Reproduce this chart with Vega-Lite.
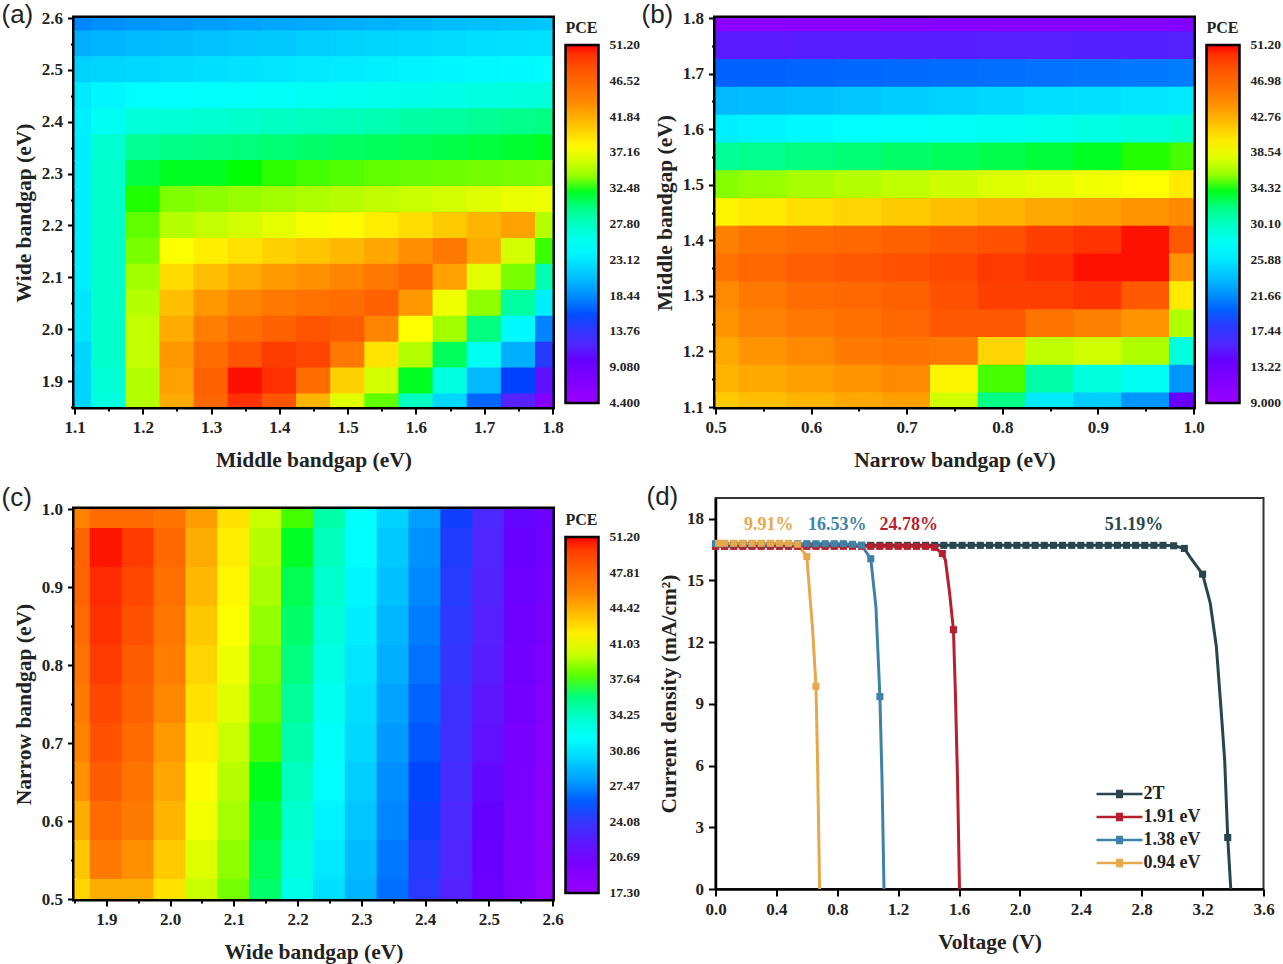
{"$schema":"https://vega.github.io/schema/vega-lite/v6.json","padding":{"left":-1.5,"top":-1,"right":0,"bottom":0},"background":"white","bounds":"flush","spacing":641,"resolve":{"scale":{"color":"independent"},"legend":{"color":"independent"}},
"config":{"view":{"stroke":"black","strokeWidth":5},"axis":{"grid":false,"labelFont":"Liberation Serif","labelFontWeight":"bold","labelFontSize":17,"labelColor":"#222","labelFlush":false,"titleFont":"Liberation Serif","titleFontWeight":"bold","titleFontSize":21.5,"titleColor":"#222","domainColor":"black","domainWidth":2.5,"tickColor":"black","tickWidth":2,"labelOverlap":false,"labelPadding":5,"zindex":1},"legend":{"titleFont":"Liberation Serif","titleFontWeight":"bold","titleFontSize":16,"titleColor":"#222","labelFont":"Liberation Serif","labelFontWeight":"bold","labelFontSize":13.5,"labelColor":"#222","padding":0}},
"hconcat":[{"bounds":"flush","spacing":102,"resolve":{"scale":{"color":"independent"},"legend":{"color":"independent"}},"vconcat":[
{"width":478,"height":389,"title":{"text":"(a)","anchor":"start","frame":"group","dx":-73,"dy":19,"offset":0,"font":"Liberation Sans","fontWeight":"normal","fontSize":26,"color":"#222"},
"data":{"values":[
{"x":1.1,"y":2.6,"v":18},{"x":1.15,"y":2.6,"v":18.5},{"x":1.2,"y":2.6,"v":18.8},{"x":1.25,"y":2.6,"v":19},{"x":1.3,"y":2.6,"v":19.2},{"x":1.35,"y":2.6,"v":19.4},{"x":1.4,"y":2.6,"v":19.6},{"x":1.45,"y":2.6,"v":19.8},{"x":1.5,"y":2.6,"v":20},{"x":1.55,"y":2.6,"v":20.2},{"x":1.6,"y":2.6,"v":20.5},{"x":1.65,"y":2.6,"v":20.7},{"x":1.7,"y":2.6,"v":20.9},{"x":1.75,"y":2.6,"v":21.1},{"x":1.8,"y":2.6,"v":21.3},
{"x":1.1,"y":2.55,"v":20},{"x":1.15,"y":2.55,"v":20.3},{"x":1.2,"y":2.55,"v":20.6},{"x":1.25,"y":2.55,"v":20.8},{"x":1.3,"y":2.55,"v":21},{"x":1.35,"y":2.55,"v":21.2},{"x":1.4,"y":2.55,"v":21.4},{"x":1.45,"y":2.55,"v":21.6},{"x":1.5,"y":2.55,"v":21.8},{"x":1.55,"y":2.55,"v":22},{"x":1.6,"y":2.55,"v":22.2},{"x":1.65,"y":2.55,"v":22.4},{"x":1.7,"y":2.55,"v":22.6},{"x":1.75,"y":2.55,"v":22.7},{"x":1.8,"y":2.55,"v":22.8},
{"x":1.1,"y":2.5,"v":21.8},{"x":1.15,"y":2.5,"v":22},{"x":1.2,"y":2.5,"v":22.2},{"x":1.25,"y":2.5,"v":22.4},{"x":1.3,"y":2.5,"v":22.6},{"x":1.35,"y":2.5,"v":22.8},{"x":1.4,"y":2.5,"v":23},{"x":1.45,"y":2.5,"v":23.2},{"x":1.5,"y":2.5,"v":23.4},{"x":1.55,"y":2.5,"v":23.6},{"x":1.6,"y":2.5,"v":23.8},{"x":1.65,"y":2.5,"v":24},{"x":1.7,"y":2.5,"v":24.1},{"x":1.75,"y":2.5,"v":24.2},{"x":1.8,"y":2.5,"v":24.4},
{"x":1.1,"y":2.45,"v":23.2},{"x":1.15,"y":2.45,"v":24},{"x":1.2,"y":2.45,"v":24.4},{"x":1.25,"y":2.45,"v":24.6},{"x":1.3,"y":2.45,"v":24.8},{"x":1.35,"y":2.45,"v":25},{"x":1.4,"y":2.45,"v":25.2},{"x":1.45,"y":2.45,"v":25.4},{"x":1.5,"y":2.45,"v":25.6},{"x":1.55,"y":2.45,"v":25.8},{"x":1.6,"y":2.45,"v":26},{"x":1.65,"y":2.45,"v":26.2},{"x":1.7,"y":2.45,"v":26.4},{"x":1.75,"y":2.45,"v":26.6},{"x":1.8,"y":2.45,"v":26.8},
{"x":1.1,"y":2.4,"v":23.5},{"x":1.15,"y":2.4,"v":25.5},{"x":1.2,"y":2.4,"v":26.8},{"x":1.25,"y":2.4,"v":27},{"x":1.3,"y":2.4,"v":27.2},{"x":1.35,"y":2.4,"v":27.5},{"x":1.4,"y":2.4,"v":27.8},{"x":1.45,"y":2.4,"v":28},{"x":1.5,"y":2.4,"v":28.2},{"x":1.55,"y":2.4,"v":28.5},{"x":1.6,"y":2.4,"v":28.8},{"x":1.65,"y":2.4,"v":29},{"x":1.7,"y":2.4,"v":29.4},{"x":1.75,"y":2.4,"v":29.7},{"x":1.8,"y":2.4,"v":30},
{"x":1.1,"y":2.35,"v":23.5},{"x":1.15,"y":2.35,"v":27.3},{"x":1.2,"y":2.35,"v":29.5},{"x":1.25,"y":2.35,"v":29.8},{"x":1.3,"y":2.35,"v":30},{"x":1.35,"y":2.35,"v":30.2},{"x":1.4,"y":2.35,"v":30.4},{"x":1.45,"y":2.35,"v":30.6},{"x":1.5,"y":2.35,"v":30.8},{"x":1.55,"y":2.35,"v":31},{"x":1.6,"y":2.35,"v":31.2},{"x":1.65,"y":2.35,"v":31.4},{"x":1.7,"y":2.35,"v":31.6},{"x":1.75,"y":2.35,"v":31.8},{"x":1.8,"y":2.35,"v":32},
{"x":1.1,"y":2.3,"v":23.5},{"x":1.15,"y":2.3,"v":27.5},{"x":1.2,"y":2.3,"v":31.5},{"x":1.25,"y":2.3,"v":32},{"x":1.3,"y":2.3,"v":32},{"x":1.35,"y":2.3,"v":32.2},{"x":1.4,"y":2.3,"v":32.4},{"x":1.45,"y":2.3,"v":32.6},{"x":1.5,"y":2.3,"v":32.8},{"x":1.55,"y":2.3,"v":33},{"x":1.6,"y":2.3,"v":33.2},{"x":1.65,"y":2.3,"v":33.3},{"x":1.7,"y":2.3,"v":33.4},{"x":1.75,"y":2.3,"v":33.5},{"x":1.8,"y":2.3,"v":33.6},
{"x":1.1,"y":2.25,"v":23.5},{"x":1.15,"y":2.25,"v":27.5},{"x":1.2,"y":2.25,"v":32.3},{"x":1.25,"y":2.25,"v":33.6},{"x":1.3,"y":2.25,"v":33.9},{"x":1.35,"y":2.25,"v":34.2},{"x":1.4,"y":2.25,"v":34.5},{"x":1.45,"y":2.25,"v":34.8},{"x":1.5,"y":2.25,"v":35.1},{"x":1.55,"y":2.25,"v":35.4},{"x":1.6,"y":2.25,"v":35.7},{"x":1.65,"y":2.25,"v":36},{"x":1.7,"y":2.25,"v":36.4},{"x":1.75,"y":2.25,"v":36.8},{"x":1.8,"y":2.25,"v":37},
{"x":1.1,"y":2.2,"v":23.5},{"x":1.15,"y":2.2,"v":27.5},{"x":1.2,"y":2.2,"v":33},{"x":1.25,"y":2.2,"v":35},{"x":1.3,"y":2.2,"v":35.5},{"x":1.35,"y":2.2,"v":36},{"x":1.4,"y":2.2,"v":36.6},{"x":1.45,"y":2.2,"v":37.2},{"x":1.5,"y":2.2,"v":37.8},{"x":1.55,"y":2.2,"v":38.6},{"x":1.6,"y":2.2,"v":39.4},{"x":1.65,"y":2.2,"v":40.4},{"x":1.7,"y":2.2,"v":41.5},{"x":1.75,"y":2.2,"v":42.5},{"x":1.8,"y":2.2,"v":35},
{"x":1.1,"y":2.15,"v":23.5},{"x":1.15,"y":2.15,"v":27.5},{"x":1.2,"y":2.15,"v":33.5},{"x":1.25,"y":2.15,"v":37.5},{"x":1.3,"y":2.15,"v":38.5},{"x":1.35,"y":2.15,"v":39.2},{"x":1.4,"y":2.15,"v":40},{"x":1.45,"y":2.15,"v":40.6},{"x":1.5,"y":2.15,"v":41.3},{"x":1.55,"y":2.15,"v":42.2},{"x":1.6,"y":2.15,"v":43.5},{"x":1.65,"y":2.15,"v":45},{"x":1.7,"y":2.15,"v":42},{"x":1.75,"y":2.15,"v":36},{"x":1.8,"y":2.15,"v":32.5},
{"x":1.1,"y":2.1,"v":23.5},{"x":1.15,"y":2.1,"v":27.5},{"x":1.2,"y":2.1,"v":34.5},{"x":1.25,"y":2.1,"v":39.5},{"x":1.3,"y":2.1,"v":41},{"x":1.35,"y":2.1,"v":42},{"x":1.4,"y":2.1,"v":42.8},{"x":1.45,"y":2.1,"v":43.4},{"x":1.5,"y":2.1,"v":44},{"x":1.55,"y":2.1,"v":45},{"x":1.6,"y":2.1,"v":46.5},{"x":1.65,"y":2.1,"v":42.5},{"x":1.7,"y":2.1,"v":36.5},{"x":1.75,"y":2.1,"v":33.5},{"x":1.8,"y":2.1,"v":28.5},
{"x":1.1,"y":2.05,"v":23},{"x":1.15,"y":2.05,"v":27.5},{"x":1.2,"y":2.05,"v":35},{"x":1.25,"y":2.05,"v":41},{"x":1.3,"y":2.05,"v":43},{"x":1.35,"y":2.05,"v":44},{"x":1.4,"y":2.05,"v":45},{"x":1.45,"y":2.05,"v":45.5},{"x":1.5,"y":2.05,"v":46},{"x":1.55,"y":2.05,"v":47},{"x":1.6,"y":2.05,"v":43},{"x":1.65,"y":2.05,"v":37},{"x":1.7,"y":2.05,"v":34},{"x":1.75,"y":2.05,"v":29},{"x":1.8,"y":2.05,"v":23.5},
{"x":1.1,"y":2.0,"v":23},{"x":1.15,"y":2.0,"v":27.5},{"x":1.2,"y":2.0,"v":35.5},{"x":1.25,"y":2.0,"v":42},{"x":1.3,"y":2.0,"v":44.5},{"x":1.35,"y":2.0,"v":46},{"x":1.4,"y":2.0,"v":47},{"x":1.45,"y":2.0,"v":48},{"x":1.5,"y":2.0,"v":47.5},{"x":1.55,"y":2.0,"v":44},{"x":1.6,"y":2.0,"v":37.6},{"x":1.65,"y":2.0,"v":34.5},{"x":1.7,"y":2.0,"v":30},{"x":1.75,"y":2.0,"v":24.2},{"x":1.8,"y":2.0,"v":18},
{"x":1.1,"y":1.95,"v":22},{"x":1.15,"y":1.95,"v":27.5},{"x":1.2,"y":1.95,"v":35.5},{"x":1.25,"y":1.95,"v":43},{"x":1.3,"y":1.95,"v":46},{"x":1.35,"y":1.95,"v":48},{"x":1.4,"y":1.95,"v":49.5},{"x":1.45,"y":1.95,"v":49},{"x":1.5,"y":1.95,"v":45},{"x":1.55,"y":1.95,"v":39},{"x":1.6,"y":1.95,"v":35},{"x":1.65,"y":1.95,"v":31},{"x":1.7,"y":1.95,"v":25.5},{"x":1.75,"y":1.95,"v":20},{"x":1.8,"y":1.95,"v":14.5},
{"x":1.1,"y":1.9,"v":22},{"x":1.15,"y":1.9,"v":27},{"x":1.2,"y":1.9,"v":35},{"x":1.25,"y":1.9,"v":42.5},{"x":1.3,"y":1.9,"v":47},{"x":1.35,"y":1.9,"v":51},{"x":1.4,"y":1.9,"v":50},{"x":1.45,"y":1.9,"v":46},{"x":1.5,"y":1.9,"v":40},{"x":1.55,"y":1.9,"v":36},{"x":1.6,"y":1.9,"v":32},{"x":1.65,"y":1.9,"v":26.5},{"x":1.7,"y":1.9,"v":20.5},{"x":1.75,"y":1.9,"v":15.6},{"x":1.8,"y":1.9,"v":10.5},
{"x":1.1,"y":1.85,"v":22},{"x":1.15,"y":1.85,"v":26.5},{"x":1.2,"y":1.85,"v":35},{"x":1.25,"y":1.85,"v":42},{"x":1.3,"y":1.85,"v":46.5},{"x":1.35,"y":1.85,"v":50},{"x":1.4,"y":1.85,"v":48},{"x":1.45,"y":1.85,"v":41.5},{"x":1.5,"y":1.85,"v":36.5},{"x":1.55,"y":1.85,"v":33},{"x":1.6,"y":1.85,"v":27.8},{"x":1.65,"y":1.85,"v":22.2},{"x":1.7,"y":1.85,"v":16.8},{"x":1.75,"y":1.85,"v":11.5},{"x":1.8,"y":1.85,"v":7}
]},
"mark":{"type":"rect","width":35,"height":27,"clip":true},
"encoding":{
"x":{"field":"x","type":"quantitative","scale":{"domain":[1.1,1.8],"nice":false,"zero":false},"axis":{"title":"Middle bandgap (eV)","values":[1.1,1.15,1.2,1.25,1.3,1.35,1.4,1.45,1.5,1.55,1.6,1.65,1.7,1.75,1.8],"labelExpr":"abs(datum.value*10-round(datum.value*10))<0.01?format(datum.value,'.1f'):''","tickSize":{"condition":{"test":"abs(datum.value*10-round(datum.value*10))<0.01","value":7},"value":4},"titlePadding":14}},
"y":{"field":"y","type":"quantitative","scale":{"domain":[1.85,2.6],"nice":false,"zero":false},"axis":{"title":"Wide bandgap (eV)","values":[1.85,1.9,1.95,2.0,2.05,2.1,2.15,2.2,2.25,2.3,2.35,2.4,2.45,2.5,2.55,2.6],"labelExpr":"abs(datum.value*10-round(datum.value*10))<0.01?format(datum.value,'.1f'):''","tickSize":{"condition":{"test":"abs(datum.value*10-round(datum.value*10))<0.01","value":7},"value":4},"titlePadding":6}},
"color":{"field":"v","type":"quantitative","scale":{"domain":[4.4,10,15.6,24.5,32.2,37.6,44.2,51.2],"range":["#9900ff","#6600ff","#0040ff","#00ffff","#00ff00","#ffff00","#ff8000","#ff0000"]},"legend":{"title":"PCE","orient":"none","legendX":491,"legendY":2,"gradientLength":358,"gradientThickness":33,"gradientStrokeColor":"black","gradientStrokeWidth":2.5,"values":[4.4,9.08,13.76,18.44,23.12,27.8,32.48,37.16,41.84,46.52,51.2],"format":".4r","labelOffset":11,"titlePadding":9,"encode":{"labels":{"update":{"baseline":{"value":"middle"}}}}}}
}},
{"width":478,"height":390,"title":{"text":"(c)","anchor":"start","frame":"group","dx":-73,"dy":11,"offset":0,"font":"Liberation Sans","fontWeight":"normal","fontSize":26,"color":"#222"},
"data":{"values":[
{"x":1.85,"y":1.0,"v":46},{"x":1.9,"y":1.0,"v":47.5},{"x":1.95,"y":1.0,"v":47.5},{"x":2.0,"y":1.0,"v":47},{"x":2.05,"y":1.0,"v":45},{"x":2.1,"y":1.0,"v":42.5},{"x":2.15,"y":1.0,"v":40},{"x":2.2,"y":1.0,"v":37.8},{"x":2.25,"y":1.0,"v":35},{"x":2.3,"y":1.0,"v":32.2},{"x":2.35,"y":1.0,"v":30},{"x":2.4,"y":1.0,"v":28},{"x":2.45,"y":1.0,"v":25.2},{"x":2.5,"y":1.0,"v":23},{"x":2.55,"y":1.0,"v":21.5},{"x":2.6,"y":1.0,"v":21},
{"x":1.85,"y":0.95,"v":48},{"x":1.9,"y":0.95,"v":51},{"x":1.95,"y":0.95,"v":50},{"x":2.0,"y":0.95,"v":47.8},{"x":2.05,"y":0.95,"v":44.5},{"x":2.1,"y":0.95,"v":42.1},{"x":2.15,"y":0.95,"v":39.6},{"x":2.2,"y":0.95,"v":37.3},{"x":2.25,"y":0.95,"v":34.5},{"x":2.3,"y":0.95,"v":31.9},{"x":2.35,"y":0.95,"v":29.6},{"x":2.4,"y":0.95,"v":27.6},{"x":2.45,"y":0.95,"v":24.9},{"x":2.5,"y":0.95,"v":22.8},{"x":2.55,"y":0.95,"v":21.3},{"x":2.6,"y":0.95,"v":20.7},
{"x":1.85,"y":0.9,"v":48},{"x":1.9,"y":0.9,"v":50.5},{"x":1.95,"y":0.9,"v":49.5},{"x":2.0,"y":0.9,"v":47.2},{"x":2.05,"y":0.9,"v":44},{"x":2.1,"y":0.9,"v":41.7},{"x":2.15,"y":0.9,"v":39.3},{"x":2.2,"y":0.9,"v":36.8},{"x":2.25,"y":0.9,"v":34.1},{"x":2.3,"y":0.9,"v":31.5},{"x":2.35,"y":0.9,"v":29.3},{"x":2.4,"y":0.9,"v":27.3},{"x":2.45,"y":0.9,"v":24.7},{"x":2.5,"y":0.9,"v":22.6},{"x":2.55,"y":0.9,"v":21},{"x":2.6,"y":0.9,"v":20.4},
{"x":1.85,"y":0.85,"v":47.5},{"x":1.9,"y":0.85,"v":50.3},{"x":1.95,"y":0.85,"v":49},{"x":2.0,"y":0.85,"v":46.8},{"x":2.05,"y":0.85,"v":43.5},{"x":2.1,"y":0.85,"v":41.3},{"x":2.15,"y":0.85,"v":38.9},{"x":2.2,"y":0.85,"v":36.4},{"x":2.25,"y":0.85,"v":33.6},{"x":2.3,"y":0.85,"v":31.2},{"x":2.35,"y":0.85,"v":28.9},{"x":2.4,"y":0.85,"v":26.9},{"x":2.45,"y":0.85,"v":24.4},{"x":2.5,"y":0.85,"v":22.4},{"x":2.55,"y":0.85,"v":20.8},{"x":2.6,"y":0.85,"v":20},
{"x":1.85,"y":0.8,"v":47},{"x":1.9,"y":0.8,"v":50},{"x":1.95,"y":0.8,"v":48.5},{"x":2.0,"y":0.8,"v":46.3},{"x":2.05,"y":0.8,"v":43},{"x":2.1,"y":0.8,"v":40.9},{"x":2.15,"y":0.8,"v":38.5},{"x":2.2,"y":0.8,"v":35.9},{"x":2.25,"y":0.8,"v":33.2},{"x":2.3,"y":0.8,"v":30.8},{"x":2.35,"y":0.8,"v":28.6},{"x":2.4,"y":0.8,"v":26.6},{"x":2.45,"y":0.8,"v":24.1},{"x":2.5,"y":0.8,"v":22.2},{"x":2.55,"y":0.8,"v":20.6},{"x":2.6,"y":0.8,"v":19.7},
{"x":1.85,"y":0.75,"v":46.5},{"x":1.9,"y":0.75,"v":49.5},{"x":1.95,"y":0.75,"v":48},{"x":2.0,"y":0.75,"v":45.8},{"x":2.05,"y":0.75,"v":42.5},{"x":2.1,"y":0.75,"v":40.5},{"x":2.15,"y":0.75,"v":38.2},{"x":2.2,"y":0.75,"v":35.4},{"x":2.25,"y":0.75,"v":32.7},{"x":2.3,"y":0.75,"v":30.5},{"x":2.35,"y":0.75,"v":28.2},{"x":2.4,"y":0.75,"v":26.2},{"x":2.45,"y":0.75,"v":23.8},{"x":2.5,"y":0.75,"v":22},{"x":2.55,"y":0.75,"v":20.4},{"x":2.6,"y":0.75,"v":19.4},
{"x":1.85,"y":0.7,"v":46},{"x":1.9,"y":0.7,"v":49},{"x":1.95,"y":0.7,"v":47.5},{"x":2.0,"y":0.7,"v":45.2},{"x":2.05,"y":0.7,"v":42},{"x":2.1,"y":0.7,"v":40},{"x":2.15,"y":0.7,"v":37.8},{"x":2.2,"y":0.7,"v":34.9},{"x":2.25,"y":0.7,"v":32.3},{"x":2.3,"y":0.7,"v":30.2},{"x":2.35,"y":0.7,"v":27.9},{"x":2.4,"y":0.7,"v":25.9},{"x":2.45,"y":0.7,"v":23.6},{"x":2.5,"y":0.7,"v":21.8},{"x":2.55,"y":0.7,"v":20.2},{"x":2.6,"y":0.7,"v":19.1},
{"x":1.85,"y":0.65,"v":45.5},{"x":1.9,"y":0.65,"v":48.5},{"x":1.95,"y":0.65,"v":47},{"x":2.0,"y":0.65,"v":44.7},{"x":2.05,"y":0.65,"v":41.5},{"x":2.1,"y":0.65,"v":39.6},{"x":2.15,"y":0.65,"v":37.4},{"x":2.2,"y":0.65,"v":34.4},{"x":2.25,"y":0.65,"v":31.8},{"x":2.3,"y":0.65,"v":29.8},{"x":2.35,"y":0.65,"v":27.5},{"x":2.4,"y":0.65,"v":25.5},{"x":2.45,"y":0.65,"v":23.3},{"x":2.5,"y":0.65,"v":21.6},{"x":2.55,"y":0.65,"v":20},{"x":2.6,"y":0.65,"v":18.8},
{"x":1.85,"y":0.6,"v":44.5},{"x":1.9,"y":0.6,"v":47.5},{"x":1.95,"y":0.6,"v":46.5},{"x":2.0,"y":0.6,"v":44.2},{"x":2.05,"y":0.6,"v":41},{"x":2.1,"y":0.6,"v":39.2},{"x":2.15,"y":0.6,"v":37.1},{"x":2.2,"y":0.6,"v":34},{"x":2.25,"y":0.6,"v":31.4},{"x":2.3,"y":0.6,"v":29.5},{"x":2.35,"y":0.6,"v":27.2},{"x":2.4,"y":0.6,"v":25.2},{"x":2.45,"y":0.6,"v":23},{"x":2.5,"y":0.6,"v":21.4},{"x":2.55,"y":0.6,"v":19.7},{"x":2.6,"y":0.6,"v":18.4},
{"x":1.85,"y":0.55,"v":43.5},{"x":1.9,"y":0.55,"v":46.5},{"x":1.95,"y":0.55,"v":45.5},{"x":2.0,"y":0.55,"v":43.4},{"x":2.05,"y":0.55,"v":40.5},{"x":2.1,"y":0.55,"v":38.8},{"x":2.15,"y":0.55,"v":36.7},{"x":2.2,"y":0.55,"v":33.5},{"x":2.25,"y":0.55,"v":30.9},{"x":2.3,"y":0.55,"v":29.1},{"x":2.35,"y":0.55,"v":26.8},{"x":2.4,"y":0.55,"v":24.8},{"x":2.45,"y":0.55,"v":22.8},{"x":2.5,"y":0.55,"v":21.2},{"x":2.55,"y":0.55,"v":19.5},{"x":2.6,"y":0.55,"v":18.1},
{"x":1.85,"y":0.5,"v":43},{"x":1.9,"y":0.5,"v":44.5},{"x":1.95,"y":0.5,"v":44.5},{"x":2.0,"y":0.5,"v":42.5},{"x":2.05,"y":0.5,"v":40},{"x":2.1,"y":0.5,"v":38.4},{"x":2.15,"y":0.5,"v":36.3},{"x":2.2,"y":0.5,"v":33},{"x":2.25,"y":0.5,"v":30.5},{"x":2.3,"y":0.5,"v":28.8},{"x":2.35,"y":0.5,"v":26.5},{"x":2.4,"y":0.5,"v":24.5},{"x":2.45,"y":0.5,"v":22.5},{"x":2.5,"y":0.5,"v":21},{"x":2.55,"y":0.5,"v":19.3},{"x":2.6,"y":0.5,"v":17.8}
]},
"mark":{"type":"rect","width":33,"height":40,"clip":true},
"encoding":{
"x":{"field":"x","type":"quantitative","scale":{"domain":[1.85,2.6],"nice":false,"zero":false},"axis":{"title":"Wide bandgap (eV)","values":[1.85,1.9,1.95,2.0,2.05,2.1,2.15,2.2,2.25,2.3,2.35,2.4,2.45,2.5,2.55,2.6],"labelExpr":"abs(datum.value*10-round(datum.value*10))<0.01?format(datum.value,'.1f'):''","tickSize":{"condition":{"test":"abs(datum.value*10-round(datum.value*10))<0.01","value":7},"value":4},"titlePadding":14}},
"y":{"field":"y","type":"quantitative","scale":{"domain":[0.5,1.0],"nice":false,"zero":false},"axis":{"title":"Narrow bandgap (eV)","values":[0.5,0.55,0.6,0.65,0.7,0.75,0.8,0.85,0.9,0.95,1.0],"labelExpr":"abs(datum.value*10-round(datum.value*10))<0.01?format(datum.value,'.1f'):''","tickSize":{"condition":{"test":"abs(datum.value*10-round(datum.value*10))<0.01","value":7},"value":4},"titlePadding":6}},
"color":{"field":"v","type":"quantitative","scale":{"domain":[17.3,21.4,25.4,31.9,37.5,41.4,46.1,51.2],"range":["#9900ff","#6600ff","#0040ff","#00ffff","#00ff00","#ffff00","#ff8000","#ff0000"]},"legend":{"title":"PCE","orient":"none","legendX":491,"legendY":3,"gradientLength":356,"gradientThickness":33,"gradientStrokeColor":"black","gradientStrokeWidth":2.5,"values":[17.3,20.69,24.08,27.47,30.86,34.25,37.64,41.03,44.42,47.81,51.2],"format":".4r","labelOffset":11,"titlePadding":9,"encode":{"labels":{"update":{"baseline":{"value":"middle"}}}}}}
}}
]},
{"bounds":"flush","spacing":91,"resolve":{"scale":{"color":"independent"},"legend":{"color":"independent"}},"vconcat":[
{"width":478,"height":389,"title":{"text":"(b)","anchor":"start","frame":"group","dx":-74,"dy":19,"offset":0,"font":"Liberation Sans","fontWeight":"normal","fontSize":26,"color":"#222"},
"data":{"values":[
{"x":0.5,"y":1.8,"v":10.5},{"x":0.55,"y":1.8,"v":10.6},{"x":0.6,"y":1.8,"v":10.7},{"x":0.65,"y":1.8,"v":10.8},{"x":0.7,"y":1.8,"v":10.9},{"x":0.75,"y":1.8,"v":11},{"x":0.8,"y":1.8,"v":11},{"x":0.85,"y":1.8,"v":11.1},{"x":0.9,"y":1.8,"v":11.2},{"x":0.95,"y":1.8,"v":11.3},{"x":1.0,"y":1.8,"v":11.5},
{"x":0.5,"y":1.75,"v":15},{"x":0.55,"y":1.75,"v":15},{"x":0.6,"y":1.75,"v":15.1},{"x":0.65,"y":1.75,"v":15.1},{"x":0.7,"y":1.75,"v":15.2},{"x":0.75,"y":1.75,"v":15.2},{"x":0.8,"y":1.75,"v":15.3},{"x":0.85,"y":1.75,"v":15.3},{"x":0.9,"y":1.75,"v":15.4},{"x":0.95,"y":1.75,"v":15.4},{"x":1.0,"y":1.75,"v":15.5},
{"x":0.5,"y":1.7,"v":20},{"x":0.55,"y":1.7,"v":20},{"x":0.6,"y":1.7,"v":20.1},{"x":0.65,"y":1.7,"v":20.2},{"x":0.7,"y":1.7,"v":20.3},{"x":0.75,"y":1.7,"v":20.4},{"x":0.8,"y":1.7,"v":20.5},{"x":0.85,"y":1.7,"v":20.6},{"x":0.9,"y":1.7,"v":20.7},{"x":0.95,"y":1.7,"v":20.8},{"x":1.0,"y":1.7,"v":21},
{"x":0.5,"y":1.65,"v":23.5},{"x":0.55,"y":1.65,"v":23.7},{"x":0.6,"y":1.65,"v":23.9},{"x":0.65,"y":1.65,"v":24.1},{"x":0.7,"y":1.65,"v":24.4},{"x":0.75,"y":1.65,"v":24.7},{"x":0.8,"y":1.65,"v":25},{"x":0.85,"y":1.65,"v":25.3},{"x":0.9,"y":1.65,"v":25.5},{"x":0.95,"y":1.65,"v":25.8},{"x":1.0,"y":1.65,"v":26},
{"x":0.5,"y":1.6,"v":26.2},{"x":0.55,"y":1.6,"v":26.5},{"x":0.6,"y":1.6,"v":26.8},{"x":0.65,"y":1.6,"v":27.1},{"x":0.7,"y":1.6,"v":27.4},{"x":0.75,"y":1.6,"v":27.7},{"x":0.8,"y":1.6,"v":28},{"x":0.85,"y":1.6,"v":28.3},{"x":0.9,"y":1.6,"v":28.7},{"x":0.95,"y":1.6,"v":29.1},{"x":1.0,"y":1.6,"v":29.5},
{"x":0.5,"y":1.55,"v":31.5},{"x":0.55,"y":1.55,"v":31.8},{"x":0.6,"y":1.55,"v":32.1},{"x":0.65,"y":1.55,"v":32.4},{"x":0.7,"y":1.55,"v":32.7},{"x":0.75,"y":1.55,"v":33},{"x":0.8,"y":1.55,"v":33.3},{"x":0.85,"y":1.55,"v":33.6},{"x":0.9,"y":1.55,"v":33.9},{"x":0.95,"y":1.55,"v":34.2},{"x":1.0,"y":1.55,"v":34.5},
{"x":0.5,"y":1.5,"v":35.5},{"x":0.55,"y":1.5,"v":35.9},{"x":0.6,"y":1.5,"v":36.3},{"x":0.65,"y":1.5,"v":36.7},{"x":0.7,"y":1.5,"v":37},{"x":0.75,"y":1.5,"v":37.4},{"x":0.8,"y":1.5,"v":37.8},{"x":0.85,"y":1.5,"v":38.1},{"x":0.9,"y":1.5,"v":38.5},{"x":0.95,"y":1.5,"v":39},{"x":1.0,"y":1.5,"v":40},
{"x":0.5,"y":1.45,"v":39.5},{"x":0.55,"y":1.45,"v":40},{"x":0.6,"y":1.45,"v":40.5},{"x":0.65,"y":1.45,"v":41},{"x":0.7,"y":1.45,"v":41.5},{"x":0.75,"y":1.45,"v":42},{"x":0.8,"y":1.45,"v":42.5},{"x":0.85,"y":1.45,"v":43},{"x":0.9,"y":1.45,"v":43.5},{"x":0.95,"y":1.45,"v":44},{"x":1.0,"y":1.45,"v":44.5},
{"x":0.5,"y":1.4,"v":45},{"x":0.55,"y":1.4,"v":46},{"x":0.6,"y":1.4,"v":46.5},{"x":0.65,"y":1.4,"v":47},{"x":0.7,"y":1.4,"v":47.5},{"x":0.75,"y":1.4,"v":48},{"x":0.8,"y":1.4,"v":48.5},{"x":0.85,"y":1.4,"v":49.5},{"x":0.9,"y":1.4,"v":50},{"x":0.95,"y":1.4,"v":51},{"x":1.0,"y":1.4,"v":48},
{"x":0.5,"y":1.35,"v":46},{"x":0.55,"y":1.35,"v":47},{"x":0.6,"y":1.35,"v":47.6},{"x":0.65,"y":1.35,"v":48},{"x":0.7,"y":1.35,"v":48.5},{"x":0.75,"y":1.35,"v":49},{"x":0.8,"y":1.35,"v":49.8},{"x":0.85,"y":1.35,"v":50.2},{"x":0.9,"y":1.35,"v":51},{"x":0.95,"y":1.35,"v":51},{"x":1.0,"y":1.35,"v":44},
{"x":0.5,"y":1.3,"v":44.5},{"x":0.55,"y":1.3,"v":45.5},{"x":0.6,"y":1.3,"v":46.5},{"x":0.65,"y":1.3,"v":47},{"x":0.7,"y":1.3,"v":47.5},{"x":0.75,"y":1.3,"v":48.5},{"x":0.8,"y":1.3,"v":49.5},{"x":0.85,"y":1.3,"v":49.5},{"x":0.9,"y":1.3,"v":50},{"x":0.95,"y":1.3,"v":48},{"x":1.0,"y":1.3,"v":40},
{"x":0.5,"y":1.25,"v":44},{"x":0.55,"y":1.25,"v":44.8},{"x":0.6,"y":1.25,"v":45.5},{"x":0.65,"y":1.25,"v":46.3},{"x":0.7,"y":1.25,"v":47},{"x":0.75,"y":1.25,"v":48},{"x":0.8,"y":1.25,"v":48},{"x":0.85,"y":1.25,"v":46},{"x":0.9,"y":1.25,"v":45},{"x":0.95,"y":1.25,"v":44},{"x":1.0,"y":1.25,"v":36.5},
{"x":0.5,"y":1.2,"v":43},{"x":0.55,"y":1.2,"v":44},{"x":0.6,"y":1.2,"v":44.5},{"x":0.65,"y":1.2,"v":45.3},{"x":0.7,"y":1.2,"v":46},{"x":0.75,"y":1.2,"v":45.5},{"x":0.8,"y":1.2,"v":41},{"x":0.85,"y":1.2,"v":37},{"x":0.9,"y":1.2,"v":37.5},{"x":0.95,"y":1.2,"v":36.5},{"x":1.0,"y":1.2,"v":29},
{"x":0.5,"y":1.15,"v":42.5},{"x":0.55,"y":1.15,"v":43},{"x":0.6,"y":1.15,"v":43.5},{"x":0.65,"y":1.15,"v":44},{"x":0.7,"y":1.15,"v":44.5},{"x":0.75,"y":1.15,"v":39.5},{"x":0.8,"y":1.15,"v":34.5},{"x":0.85,"y":1.15,"v":31},{"x":0.9,"y":1.15,"v":29},{"x":0.95,"y":1.15,"v":28},{"x":1.0,"y":1.15,"v":22},
{"x":0.5,"y":1.1,"v":41.5},{"x":0.55,"y":1.1,"v":42},{"x":0.6,"y":1.1,"v":42.5},{"x":0.65,"y":1.1,"v":43},{"x":0.7,"y":1.1,"v":43.5},{"x":0.75,"y":1.1,"v":37.5},{"x":0.8,"y":1.1,"v":32},{"x":0.85,"y":1.1,"v":26},{"x":0.9,"y":1.1,"v":24.5},{"x":0.95,"y":1.1,"v":22},{"x":1.0,"y":1.1,"v":14}
]},
"mark":{"type":"rect","width":49,"height":29,"clip":true},
"encoding":{
"x":{"field":"x","type":"quantitative","scale":{"domain":[0.5,1.0],"nice":false,"zero":false},"axis":{"title":"Narrow bandgap (eV)","values":[0.5,0.55,0.6,0.65,0.7,0.75,0.8,0.85,0.9,0.95,1.0],"labelExpr":"abs(datum.value*10-round(datum.value*10))<0.01?format(datum.value,'.1f'):''","tickSize":{"condition":{"test":"abs(datum.value*10-round(datum.value*10))<0.01","value":7},"value":4},"titlePadding":14}},
"y":{"field":"y","type":"quantitative","scale":{"domain":[1.1,1.8],"nice":false,"zero":false},"axis":{"title":"Middle bandgap (eV)","values":[1.1,1.15,1.2,1.25,1.3,1.35,1.4,1.45,1.5,1.55,1.6,1.65,1.7,1.75,1.8],"labelExpr":"abs(datum.value*10-round(datum.value*10))<0.01?format(datum.value,'.1f'):''","tickSize":{"condition":{"test":"abs(datum.value*10-round(datum.value*10))<0.01","value":7},"value":4},"titlePadding":6}},
"color":{"field":"v","type":"quantitative","scale":{"domain":[9,14.1,19.1,27.1,34.1,39,44.9,51.2],"range":["#9900ff","#6600ff","#0040ff","#00ffff","#00ff00","#ffff00","#ff8000","#ff0000"]},"legend":{"title":"PCE","orient":"none","legendX":491,"legendY":2,"gradientLength":358,"gradientThickness":33,"gradientStrokeColor":"black","gradientStrokeWidth":2.5,"values":[9,13.22,17.44,21.66,25.88,30.1,34.32,38.54,42.76,46.98,51.2],"format":".4r","labelOffset":11,"titlePadding":9,"encode":{"labels":{"update":{"baseline":{"value":"middle"}}}}}}
}},
{"width":548,"height":391,"view":{"stroke":"#333","strokeWidth":2},"title":{"text":"(d)","anchor":"start","frame":"group","dx":-69,"dy":12,"offset":0,"font":"Liberation Sans","fontWeight":"normal","fontSize":26,"color":"#222"},
"data":{"values":[
{"V":0,"J":16.7,"s":"2T","m":1},{"V":0.06,"J":16.7,"s":"2T","m":1},{"V":0.12,"J":16.7,"s":"2T","m":1},{"V":0.18,"J":16.7,"s":"2T","m":1},{"V":0.24,"J":16.7,"s":"2T","m":1},{"V":0.3,"J":16.7,"s":"2T","m":1},{"V":0.36,"J":16.7,"s":"2T","m":1},{"V":0.42,"J":16.7,"s":"2T","m":1},{"V":0.48,"J":16.7,"s":"2T","m":1},{"V":0.54,"J":16.7,"s":"2T","m":1},{"V":0.6,"J":16.7,"s":"2T","m":1},{"V":0.66,"J":16.7,"s":"2T","m":1},{"V":0.72,"J":16.7,"s":"2T","m":1},{"V":0.78,"J":16.7,"s":"2T","m":1},{"V":0.84,"J":16.7,"s":"2T","m":1},{"V":0.9,"J":16.7,"s":"2T","m":1},{"V":0.96,"J":16.7,"s":"2T","m":1},{"V":1.02,"J":16.7,"s":"2T","m":1},{"V":1.08,"J":16.7,"s":"2T","m":1},{"V":1.14,"J":16.7,"s":"2T","m":1},{"V":1.2,"J":16.7,"s":"2T","m":1},{"V":1.26,"J":16.7,"s":"2T","m":1},{"V":1.32,"J":16.7,"s":"2T","m":1},{"V":1.38,"J":16.7,"s":"2T","m":1},{"V":1.44,"J":16.7,"s":"2T","m":1},{"V":1.5,"J":16.7,"s":"2T","m":1},{"V":1.56,"J":16.7,"s":"2T","m":1},{"V":1.62,"J":16.7,"s":"2T","m":1},{"V":1.68,"J":16.7,"s":"2T","m":1},{"V":1.74,"J":16.7,"s":"2T","m":1},{"V":1.8,"J":16.7,"s":"2T","m":1},{"V":1.86,"J":16.7,"s":"2T","m":1},{"V":1.92,"J":16.7,"s":"2T","m":1},{"V":1.98,"J":16.7,"s":"2T","m":1},{"V":2.04,"J":16.7,"s":"2T","m":1},{"V":2.1,"J":16.7,"s":"2T","m":1},{"V":2.16,"J":16.7,"s":"2T","m":1},{"V":2.22,"J":16.7,"s":"2T","m":1},{"V":2.28,"J":16.7,"s":"2T","m":1},{"V":2.34,"J":16.7,"s":"2T","m":1},{"V":2.4,"J":16.7,"s":"2T","m":1},{"V":2.46,"J":16.7,"s":"2T","m":1},{"V":2.52,"J":16.7,"s":"2T","m":1},{"V":2.58,"J":16.7,"s":"2T","m":1},{"V":2.64,"J":16.7,"s":"2T","m":1},{"V":2.7,"J":16.7,"s":"2T","m":1},{"V":2.76,"J":16.7,"s":"2T","m":1},{"V":2.82,"J":16.7,"s":"2T","m":1},{"V":2.88,"J":16.7,"s":"2T","m":1},{"V":2.94,"J":16.7,"s":"2T","m":1},{"V":3.01,"J":16.68,"s":"2T","m":1},{"V":3.08,"J":16.55,"s":"2T","m":1},{"V":3.12,"J":16.1,"s":"2T","m":0},{"V":3.2,"J":15.3,"s":"2T","m":1},{"V":3.25,"J":13.9,"s":"2T","m":0},{"V":3.29,"J":11.8,"s":"2T","m":0},{"V":3.32,"J":8.85,"s":"2T","m":0},{"V":3.345,"J":6.26,"s":"2T","m":0},{"V":3.365,"J":2.5,"s":"2T","m":1},{"V":3.385,"J":0,"s":"2T","m":0},
{"V":0,"J":16.65,"s":"1.91 eV","m":1},{"V":0.06,"J":16.65,"s":"1.91 eV","m":1},{"V":0.12,"J":16.65,"s":"1.91 eV","m":1},{"V":0.18,"J":16.65,"s":"1.91 eV","m":1},{"V":0.24,"J":16.65,"s":"1.91 eV","m":1},{"V":0.3,"J":16.65,"s":"1.91 eV","m":1},{"V":0.36,"J":16.65,"s":"1.91 eV","m":1},{"V":0.42,"J":16.65,"s":"1.91 eV","m":1},{"V":0.48,"J":16.65,"s":"1.91 eV","m":1},{"V":0.54,"J":16.65,"s":"1.91 eV","m":1},{"V":0.6,"J":16.65,"s":"1.91 eV","m":1},{"V":0.66,"J":16.65,"s":"1.91 eV","m":1},{"V":0.72,"J":16.65,"s":"1.91 eV","m":1},{"V":0.78,"J":16.65,"s":"1.91 eV","m":1},{"V":0.84,"J":16.65,"s":"1.91 eV","m":1},{"V":0.9,"J":16.65,"s":"1.91 eV","m":1},{"V":0.96,"J":16.65,"s":"1.91 eV","m":1},{"V":1.02,"J":16.65,"s":"1.91 eV","m":1},{"V":1.08,"J":16.65,"s":"1.91 eV","m":1},{"V":1.14,"J":16.65,"s":"1.91 eV","m":1},{"V":1.2,"J":16.65,"s":"1.91 eV","m":1},{"V":1.26,"J":16.65,"s":"1.91 eV","m":1},{"V":1.32,"J":16.65,"s":"1.91 eV","m":1},{"V":1.38,"J":16.65,"s":"1.91 eV","m":1},{"V":1.44,"J":16.6,"s":"1.91 eV","m":1},{"V":1.49,"J":16.3,"s":"1.91 eV","m":1},{"V":1.51,"J":16,"s":"1.91 eV","m":0},{"V":1.536,"J":14.5,"s":"1.91 eV","m":0},{"V":1.563,"J":12.6,"s":"1.91 eV","m":1},{"V":1.576,"J":9.5,"s":"1.91 eV","m":0},{"V":1.59,"J":5.3,"s":"1.91 eV","m":0},{"V":1.603,"J":0,"s":"1.91 eV","m":0},
{"V":0,"J":16.78,"s":"1.38 eV","m":1},{"V":0.06,"J":16.78,"s":"1.38 eV","m":1},{"V":0.12,"J":16.78,"s":"1.38 eV","m":1},{"V":0.18,"J":16.78,"s":"1.38 eV","m":1},{"V":0.24,"J":16.78,"s":"1.38 eV","m":1},{"V":0.3,"J":16.78,"s":"1.38 eV","m":1},{"V":0.36,"J":16.78,"s":"1.38 eV","m":1},{"V":0.42,"J":16.78,"s":"1.38 eV","m":1},{"V":0.48,"J":16.78,"s":"1.38 eV","m":1},{"V":0.54,"J":16.78,"s":"1.38 eV","m":1},{"V":0.6,"J":16.78,"s":"1.38 eV","m":1},{"V":0.66,"J":16.78,"s":"1.38 eV","m":1},{"V":0.72,"J":16.78,"s":"1.38 eV","m":1},{"V":0.78,"J":16.78,"s":"1.38 eV","m":1},{"V":0.84,"J":16.78,"s":"1.38 eV","m":1},{"V":0.9,"J":16.75,"s":"1.38 eV","m":1},{"V":0.96,"J":16.7,"s":"1.38 eV","m":1},{"V":1.02,"J":16.05,"s":"1.38 eV","m":1},{"V":1.054,"J":13.7,"s":"1.38 eV","m":0},{"V":1.08,"J":9.35,"s":"1.38 eV","m":1},{"V":1.094,"J":5.3,"s":"1.38 eV","m":0},{"V":1.107,"J":0,"s":"1.38 eV","m":0},
{"V":0.02,"J":16.8,"s":"0.94 eV","m":1},{"V":0.06,"J":16.8,"s":"0.94 eV","m":1},{"V":0.12,"J":16.8,"s":"0.94 eV","m":1},{"V":0.18,"J":16.8,"s":"0.94 eV","m":1},{"V":0.24,"J":16.8,"s":"0.94 eV","m":1},{"V":0.3,"J":16.8,"s":"0.94 eV","m":1},{"V":0.36,"J":16.8,"s":"0.94 eV","m":1},{"V":0.42,"J":16.8,"s":"0.94 eV","m":1},{"V":0.48,"J":16.8,"s":"0.94 eV","m":1},{"V":0.54,"J":16.75,"s":"0.94 eV","m":1},{"V":0.6,"J":16.15,"s":"0.94 eV","m":1},{"V":0.61,"J":15.2,"s":"0.94 eV","m":0},{"V":0.638,"J":12.6,"s":"0.94 eV","m":0},{"V":0.66,"J":9.85,"s":"0.94 eV","m":1},{"V":0.67,"J":6.4,"s":"0.94 eV","m":0},{"V":0.684,"J":0,"s":"0.94 eV","m":0}
]},
"layer":[
{"mark":{"type":"line","strokeWidth":3,"interpolate":"linear"},"encoding":{"x":{"field":"V","type":"quantitative","scale":{"domain":[0,3.6],"nice":false},"axis":{"title":"Voltage (V)","values":[0,0.2,0.4,0.6,0.8,1,1.2,1.4,1.6,1.8,2,2.2,2.4,2.6,2.8,3,3.2,3.4,3.6],"labelExpr":"abs(datum.value*2.5-round(datum.value*2.5))<0.01?format(datum.value,'.1f'):''","tickSize":{"condition":{"test":"abs(datum.value*2.5-round(datum.value*2.5))<0.01","value":7},"value":4},"titlePadding":14}},"y":{"field":"J","type":"quantitative","scale":{"domain":[0,19],"nice":false},"axis":{"title":"Current density (mA/cm²)","values":[0,1.5,3,4.5,6,7.5,9,10.5,12,13.5,15,16.5,18],"labelExpr":"datum.value%3==0?format(datum.value,'d'):''","tickSize":{"condition":{"test":"datum.value%3==0","value":7},"value":4},"titlePadding":6}},"color":{"field":"s","type":"nominal","scale":{"domain":["2T","1.91 eV","1.38 eV","0.94 eV"],"range":["#25464f","#b81f2c","#3f82a8","#e6a84c"]},"legend":{"title":null,"orient":"none","legendX":395,"legendY":287,"symbolType":"M-4.6,0H4.6M-.45,-.85V.85M0,-.85V.85M.45,-.85V.85","symbolSize":100,"symbolStrokeWidth":2.5,"symbolOpacity":1,"labelOffset":15,"labelFontSize":18,"rowPadding":3}}}},
{"transform":[{"filter":"datum.m==1"}],"mark":{"type":"square","size":50,"opacity":1},"encoding":{"x":{"field":"V","type":"quantitative"},"y":{"field":"J","type":"quantitative"},"color":{"field":"s","type":"nominal"}}},
{"data":{"values":[{"V":0.35,"J":17.7,"s":"0.94 eV","t":"9.91%"},{"V":0.8,"J":17.7,"s":"1.38 eV","t":"16.53%"},{"V":1.27,"J":17.7,"s":"1.91 eV","t":"24.78%"},{"V":2.75,"J":17.7,"s":"2T","t":"51.19%"}]},"mark":{"type":"text","font":"Liberation Serif","fontWeight":"bold","fontSize":18},"encoding":{"x":{"field":"V","type":"quantitative"},"y":{"field":"J","type":"quantitative"},"text":{"field":"t"},"color":{"field":"s","type":"nominal"}}}
]}
]}]}
